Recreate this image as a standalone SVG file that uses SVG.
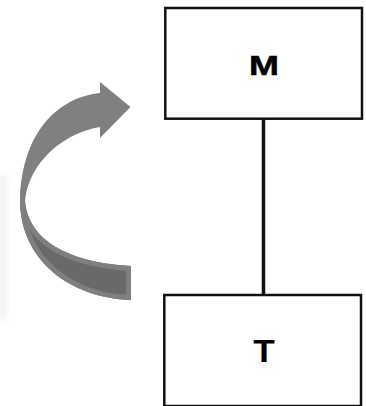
<svg xmlns="http://www.w3.org/2000/svg" width="366" height="406" viewBox="0 0 366 406">
  <defs>
    <style>
      .box { fill: #ffffff; stroke: #111111; stroke-width: 2.5; }
      .label { font-family: "Liberation Sans", Arial, sans-serif; font-weight: bold; fill: #000000; text-anchor: middle; }
      .link { stroke: #111111; stroke-width: 3.5; fill: none; }
      .face { fill: #808080; }
      .under { fill: #696969; }
      .under-rim { fill: none; stroke: #7f7f7f; stroke-width: 10; stroke-linejoin: round; }
    </style>
    <!-- underside of the curved ribbon arrow -->
    <path id="underside" d="M20,200 C20,260 70,298 131,300 L131,266 C60,262 27,235 25,200 Z"/>
    <clipPath id="underClip">
      <use href="#underside"/>
    </clipPath>
    <filter id="soft" x="-50%" y="-10%" width="200%" height="120%">
      <feGaussianBlur stdDeviation="2"/>
    </filter>
  </defs>

  <rect width="366" height="406" fill="#ffffff"/>

  <!-- faint smudge at the left margin -->
  <rect x="0" y="175" width="7" height="145" fill="#e4e4e4" filter="url(#soft)" opacity="0.45"/>

  <!-- curved cycle arrow -->
  <g id="cycle-arrow">
    <path class="face" d="M100,93 L100,82 L130.5,107 L100,138 L100,127 C65,133 30,160 25,200 L20,200 C22,130 60,97 100,93 Z"/>
    <use href="#underside" class="under"/>
    <g clip-path="url(#underClip)">
      <use href="#underside" class="under-rim"/>
    </g>
  </g>

  <!-- connectors -->
  <g id="connectors">
    <line class="link" x1="263.5" y1="119" x2="263.5" y2="295"/>
  </g>

  <g id="node-M">
    <rect class="box" x="165.3" y="8" width="196.7" height="110.7"/>
    <text class="label" x="264" y="74.5" font-size="27.5" textLength="30" lengthAdjust="spacingAndGlyphs" stroke="#000" stroke-width="0.5">M</text>
  </g>

  <g id="node-T">
    <rect class="box" x="164.3" y="295" width="196.7" height="111"/>
    <text class="label" x="264" y="362" font-size="32" textLength="21.5" lengthAdjust="spacingAndGlyphs">T</text>
  </g>
</svg>
